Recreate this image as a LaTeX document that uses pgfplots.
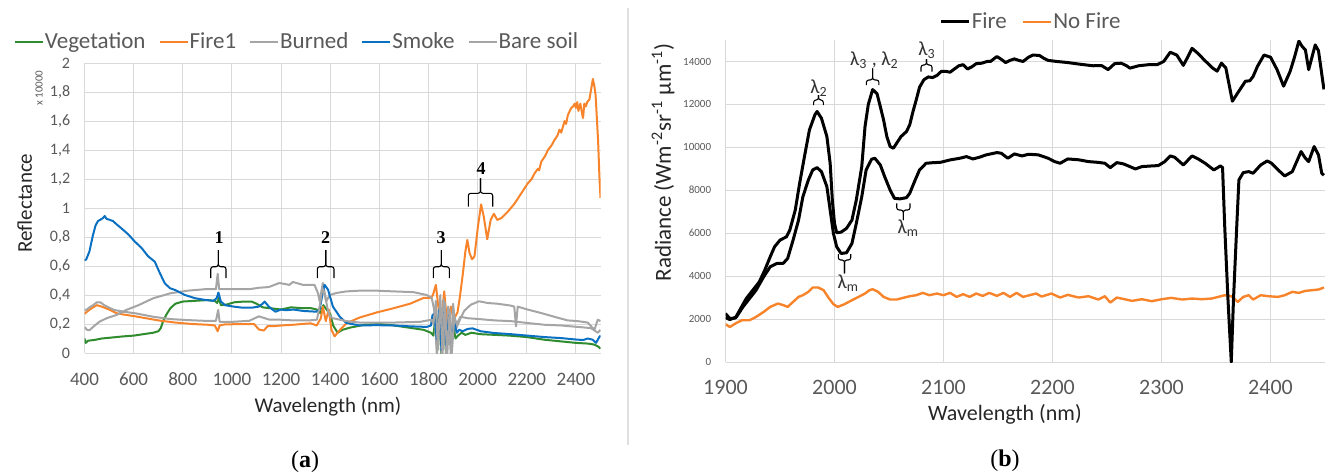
\documentclass[border=0pt]{standalone}
\usepackage{fontspec}
\setmainfont{Carlito}
\newfontfamily\serifbold{Liberation Serif}[BoldFont={Liberation Serif Bold}]
\usepackage{pgfplots}
\pgfplotsset{compat=1.18}
\definecolor{cveg}{HTML}{2E8B2E}
\definecolor{cfire}{HTML}{F7842A}
\definecolor{cgray}{HTML}{A5A5A5}
\definecolor{csmoke}{HTML}{0A70C2}
\definecolor{gridc}{HTML}{D9D9D9}
\definecolor{tickc}{HTML}{595959}
\newcommand\fs[1]{\fontsize{#1}{#1}\selectfont}
% bracket: left x, right x, mid x, end y, bar y, stem y (image pixels)
\newcommand\brk[6]{%
  \draw[line width=0.55pt, rounded corners=1.2pt] (#1,#4) -- (#1,#5) -- (#3,#5) -- (#3,#6);
  \draw[line width=0.55pt, rounded corners=1.2pt] (#2,#4) -- (#2,#5) -- (#3,#5) -- (#3,#6);}
\pgfplotsset{
  excel/.style={
    scale only axis, anchor=south west,
    grid=major, grid style={line width=0.5pt, gridc},
    axis line style={draw=none}, tick style={draw=none},
    tick label style={text=tickc},
    scaled ticks=false,
    /pgf/number format/assume math mode=true,
    /pgf/number format/1000 sep={},
    legend style={draw=none, fill=none, text=tickc, nodes={inner sep=0.5pt}},
    legend image code/.code={\draw[##1] (0pt,0pt) -- (14pt,0pt);},
  }
}
\begin{document}
\begin{tikzpicture}
\path[use as bounding box] (0pt,0pt) rectangle (662.5pt,-236.5pt);

% ---------------- (a) reflectance ----------------
\begin{axis}[excel, name=A,
  at={(42.25pt,-176.5pt)}, width=258pt, height=145pt,
  xmin=400, xmax=2500, ymin=0, ymax=2,
  xtick={400,600,...,2400}, ytick={0,0.2,...,2.01},
  xticklabel style={font=\fs{9.5}, anchor=center, inner sep=0pt, yshift=-13pt},
  yticklabel style={font=\fs{8}, anchor=east, inner sep=0pt, xshift=-7pt,
    /pgf/number format/use comma, /pgf/number format/fixed, /pgf/number format/precision=1},
  xlabel={Wavelength (nm)}, ylabel={Reflectance},
  label style={font=\fs{10.5}, text=black!85},
  xlabel style={at={(axis description cs:0.472,-0.186)}, anchor=center},
  ylabel style={at={(axis description cs:-0.116,0.517)}, anchor=center},
  legend columns=5,
  legend style={at={(axis description cs:0.411,1.072)}, anchor=center, font=\fs{11.5},
    /tikz/every even column/.append style={column sep=6pt}},
  every axis plot/.append style={line width=1pt, line join=round},
]
\addplot[cveg] coordinates {
(400,0.10)(405,0.07)(415,0.085)(440,0.09)(470,0.10)(500,0.105)(530,0.11)(560,0.115)
(600,0.12)(640,0.13)(680,0.14)(700,0.15)(710,0.17)(720,0.22)(735,0.27)(750,0.31)
(770,0.34)(800,0.355)(850,0.36)(900,0.365)(930,0.36)(940,0.345)(947,0.38)(955,0.33)
(980,0.335)(1010,0.35)(1050,0.355)(1080,0.355)(1100,0.34)(1125,0.315)(1150,0.31)
(1200,0.30)(1240,0.315)(1280,0.31)(1320,0.31)(1345,0.30)(1360,0.275)(1372,0.33)
(1385,0.30)(1400,0.27)(1412,0.19)(1430,0.14)(1450,0.16)(1480,0.175)(1540,0.195)
(1600,0.20)(1660,0.19)(1720,0.175)(1780,0.16)(1810,0.14)(1820,0.12)(1828,0.25)
(1834,0.05)(1843,0.30)(1852,-0.02)(1862,0.28)(1871,0.0)(1880,0.25)(1890,0.05)
(1900,0.20)(1910,0.10)(1920,0.12)(1935,0.14)(1950,0.125)(1975,0.14)(2010,0.13)
(2060,0.126)(2130,0.12)(2200,0.11)(2270,0.092)(2340,0.08)(2400,0.07)(2450,0.065)
(2475,0.058)(2490,0.045)(2500,0.03)};
\addlegendentry{Vegetation}
\addplot[cfire] coordinates {
(400,0.27)(410,0.285)(430,0.31)(450,0.33)(470,0.32)(500,0.30)(530,0.275)(560,0.265)
(600,0.255)(650,0.24)(700,0.225)(770,0.21)(840,0.20)(900,0.195)(930,0.19)(942,0.15)
(950,0.19)(970,0.197)(1040,0.20)(1090,0.20)(1110,0.162)(1130,0.155)(1145,0.185)
(1170,0.185)(1200,0.19)(1250,0.195)(1320,0.205)(1345,0.19)(1362,0.24)(1370,0.32)
(1382,0.22)(1394,0.30)(1405,0.16)(1418,0.115)(1440,0.16)(1466,0.205)(1520,0.245)
(1590,0.28)(1660,0.31)(1725,0.34)(1780,0.38)(1810,0.38)(1818,0.40)(1830,0.47)
(1840,0.32)(1850,0.18)(1864,0.425)(1877,0.18)(1891,0.32)(1902,0.23)(1918,0.28)
(1928,0.39)(1940,0.55)(1950,0.70)(1958,0.78)(1967,0.69)(1977,0.647)(1987,0.665)
(2001,0.87)(2014,1.025)(2025,0.94)(2039,0.785)(2053,0.918)(2066,0.96)(2080,0.918)
(2096,0.93)(2123,0.975)(2150,1.03)(2177,1.10)(2204,1.17)(2220,1.20)(2232,1.24)
(2245,1.27)(2250,1.26)(2259,1.32)(2275,1.36)(2286,1.40)(2300,1.43)(2313,1.47)
(2325,1.50)(2333,1.54)(2340,1.52)(2347,1.56)(2354,1.60)(2360,1.58)(2367,1.64)
(2375,1.67)(2381,1.69)(2388,1.70)(2395,1.72)(2400,1.69)(2405,1.73)(2410,1.67)
(2418,1.72)(2424,1.66)(2429,1.62)(2434,1.72)(2440,1.70)(2446,1.73)(2455,1.75)
(2462,1.82)(2469,1.89)(2475,1.84)(2480,1.78)(2490,1.47)(2496,1.20)(2500,1.07)};
\addlegendentry{Fire1}
\addplot[cgray] coordinates {
(400,0.18)(410,0.16)(420,0.157)(435,0.18)(460,0.215)(490,0.24)(530,0.262)(570,0.297)
(620,0.33)(680,0.378)(750,0.412)(820,0.43)(890,0.44)(935,0.44)(942,0.547)(948,0.44)
(1000,0.44)(1070,0.44)(1110,0.45)(1150,0.455)(1193,0.483)(1234,0.47)(1248,0.49)
(1289,0.47)(1336,0.47)(1350,0.414)(1357,0.357)(1370,0.483)(1384,0.357)(1398,0.40)
(1425,0.414)(1466,0.425)(1520,0.43)(1588,0.43)(1657,0.425)(1738,0.42)(1793,0.40)
(1813,0.38)(1823,0.30)(1834,-0.01)(1843,0.30)(1853,-0.01)(1861,0.37)(1871,-0.01)
(1880,0.32)(1891,-0.02)(1900,0.34)(1911,0.16)(1925,0.22)(1945,0.29)(1972,0.333)
(2006,0.357)(2040,0.345)(2081,0.34)(2135,0.327)(2149,0.32)(2156,0.184)(2163,0.32)
(2203,0.30)(2258,0.276)(2312,0.25)(2366,0.225)(2407,0.22)(2448,0.21)(2475,0.16)
(2489,0.23)(2500,0.22)};
\addlegendentry{Burned}
\addplot[csmoke] coordinates {
(400,0.64)(407,0.645)(420,0.70)(434,0.81)(445,0.88)(455,0.91)(465,0.92)(475,0.93)
(482,0.945)(490,0.925)(500,0.92)(516,0.91)(529,0.89)(550,0.86)(577,0.82)(604,0.77)
(632,0.725)(659,0.667)(686,0.63)(707,0.55)(727,0.48)(748,0.447)(768,0.435)(809,0.40)
(850,0.378)(891,0.366)(925,0.36)(938,0.378)(945,0.417)(955,0.355)(972,0.33)
(1007,0.32)(1041,0.313)(1082,0.313)(1109,0.32)(1125,0.34)(1133,0.355)(1150,0.32)
(1177,0.285)(1200,0.30)(1220,0.295)(1250,0.30)(1290,0.29)(1343,0.285)(1357,0.30)
(1370,0.42)(1377,0.47)(1391,0.437)(1411,0.32)(1439,0.25)(1466,0.207)(1520,0.19)
(1588,0.192)(1657,0.19)(1725,0.184)(1793,0.18)(1810,0.19)(1816,0.26)(1823,0.27)
(1834,0.09)(1843,0.30)(1853,0.02)(1864,0.28)(1873,0.05)(1884,0.26)(1894,0.07)
(1905,0.21)(1915,0.14)(1925,0.16)(1939,0.15)(1959,0.166)(1979,0.17)(2013,0.15)
(2067,0.138)(2135,0.13)(2203,0.12)(2271,0.11)(2339,0.103)(2407,0.092)(2430,0.09)
(2448,0.10)(2468,0.092)(2482,0.07)(2495,0.11)(2500,0.12)};
\addlegendentry{Smoke}
\addplot[cgray] coordinates {
(400,0.297)(410,0.30)(420,0.315)(435,0.33)(450,0.35)(465,0.35)(480,0.33)(520,0.297)
(560,0.285)(610,0.273)(680,0.25)(750,0.234)(820,0.227)(890,0.222)(935,0.222)
(944,0.297)(950,0.215)(1000,0.215)(1070,0.222)(1110,0.253)(1152,0.23)(1193,0.23)
(1248,0.225)(1316,0.225)(1346,0.23)(1360,0.35)(1368,0.45)(1378,0.40)(1390,0.30)
(1400,0.25)(1411,0.24)(1466,0.22)(1520,0.21)(1657,0.21)(1766,0.215)(1813,0.23)
(1820,0.20)(1830,0.36)(1838,0.02)(1848,0.40)(1857,-0.02)(1866,0.35)(1876,-0.02)
(1886,0.30)(1895,0.0)(1905,0.25)(1915,0.20)(1930,0.25)(1959,0.24)(2000,0.235)
(2067,0.225)(2135,0.22)(2203,0.207)(2271,0.195)(2339,0.19)(2407,0.18)(2461,0.172)
(2489,0.14)(2500,0.16)};
\addlegendentry{Bare soil}
\end{axis}

% ---------------- (b) radiance ----------------
\begin{axis}[excel, name=B,
  at={(362.75pt,-181pt)}, width=299.75pt, height=161pt,
  xmin=1900, xmax=2450, ymin=0, ymax=15000,
  xtick={1900,2000,...,2400}, ytick={0,2000,...,14000},
  xticklabel style={font=\fs{11}, anchor=center, inner sep=0pt, yshift=-12.5pt},
  yticklabel style={font=\fs{5.5}, anchor=east, inner sep=0pt, xshift=-7pt},
  xlabel={Wavelength (nm)},
  ylabel={Radiance (Wm\textsuperscript{-2}sr\textsuperscript{-1} µm\textsuperscript{-1})},
  label style={font=\fs{11.5}, text=black!85},
  xlabel style={at={(axis description cs:0.466,-0.161)}, anchor=center, font=\fs{11}},
  ylabel style={at={(axis description cs:-0.104,0.62)}, anchor=center},
  legend columns=2,
  legend style={at={(axis description cs:0.509,1.056)}, anchor=center, font=\fs{11.5},
    /tikz/every even column/.append style={column sep=7pt}},
  every axis plot/.append style={line join=round},
]
\addplot[black, line width=1.5pt] coordinates {
(1900,2256)(1904,2023)(1909,2050)(1913,2412)(1919,2956)(1925,3345)(1931,3734)
(1936,4279)(1941,4901)(1945,5368)(1950,5679)(1956,5835)(1959,6146)(1964,7080)
(1968,8325)(1973,9725)(1977,10814)(1982,11514)(1984,11670)(1988,11359)(1993,10503)
(1996,9258)(1998,7547)(2000,6457)(2002,6022)(2006,6050)(2011,6224)(2016,6613)
(2020,7547)(2025,9103)(2028,10970)(2031,12000)(2035,12690)(2039,12500)(2042,11900)
(2045,11281)(2048,10503)(2051,10036)(2054,9958)(2057,10192)(2061,10503)(2066,10736)
(2069,11048)(2072,11670)(2075,12215)(2078,12800)(2082,13150)(2086,13280)(2090,13250)
(2094,13350)(2098,13540)(2102,13540)(2106,13500)(2110,13650)(2114,13800)(2118,13850)
(2122,13650)(2126,13750)(2130,13900)(2135,13920)(2140,14000)(2143,14000)(2149,14230)
(2153,14100)(2157,13950)(2161,14050)(2165,14120)(2169,14050)(2173,14000)(2178,14200)
(2182,14300)(2188,14280)(2192,14150)(2196,14050)(2204,14000)(2214,13950)(2224,13880)
(2237,13800)(2245,13810)(2251,13620)(2257,13900)(2263,13920)(2268,13800)(2271,13690)
(2279,13800)(2288,13850)(2296,13850)(2302,14000)(2308,14430)(2314,14300)(2320,13820)
(2324,14200)(2328,14615)(2334,14350)(2339,14080)(2347,13690)(2351,13550)(2355,13920)
(2359,13700)(2365,12150)(2371,12620)(2377,13080)(2381,13100)(2384,13300)(2388,13770)
(2394,14300)(2400,14200)(2406,13620)(2412,12850)(2418,13540)(2422,14200)(2426,14950)
(2429,14700)(2432,14540)(2435,13620)(2441,14770)(2444,14500)(2449,12700)};
\addlegendentry{Fire}
\addplot[cfire, line width=1.2pt] coordinates {
(1900,1758)(1904,1634)(1910,1820)(1915,1945)(1922,1945)(1928,2100)(1935,2334)
(1941,2567)(1948,2723)(1953,2650)(1957,2567)(1962,2800)(1967,3034)(1971,3112)
(1976,3268)(1980,3470)(1985,3470)(1990,3345)(1994,3034)(1999,2692)(2003,2567)
(2009,2692)(2016,2879)(2022,3034)(2028,3190)(2032,3345)(2035,3392)(2040,3268)
(2045,3034)(2051,2910)(2057,2910)(2063,2988)(2069,3065)(2075,3112)(2081,3221)
(2087,3112)(2094,3190)(2100,3112)(2106,3221)(2112,3034)(2118,3160)(2124,3034)
(2130,3190)(2136,3080)(2142,3221)(2149,3080)(2155,3221)(2161,3034)(2167,3221)
(2173,3034)(2179,3112)(2185,3190)(2190,3050)(2199,3190)(2207,3003)(2214,3128)
(2224,3003)(2233,3065)(2242,2910)(2248,3065)(2253,2770)(2259,3003)(2266,2925)
(2273,2848)(2282,2925)(2291,2832)(2300,2925)(2309,2988)(2319,2910)(2328,2957)
(2337,2925)(2346,2957)(2352,3034)(2358,3112)(2364,3065)(2370,2800)(2375,3034)
(2380,3112)(2384,2910)(2391,3112)(2398,3065)(2407,3034)(2413,3112)(2420,3268)
(2426,3221)(2432,3314)(2438,3345)(2444,3376)(2449,3470)};
\addlegendentry{No Fire}
\addplot[black, line width=1.5pt, forget plot] coordinates {
(1900,2069)(1904,1976)(1910,2100)(1916,2567)(1922,2956)(1928,3345)(1935,3968)
(1941,4435)(1947,4590)(1953,4600)(1957,4824)(1962,5679)(1967,6613)(1971,7702)
(1976,8480)(1980,8947)(1984,9056)(1988,8869)(1993,8169)(1996,7080)(1999,5991)
(2002,5368)(2006,5057)(2011,5088)(2016,5524)(2020,6457)(2025,7702)(2029,8947)
(2034,9445)(2037,9492)(2042,9180)(2046,8636)(2051,8013)(2055,7624)(2060,7600)
(2066,7655)(2069,7858)(2074,8480)(2078,8947)(2084,9258)(2091,9289)(2097,9300)
(2106,9414)(2115,9492)(2121,9569)(2127,9460)(2133,9540)(2139,9647)(2149,9756)
(2153,9725)(2159,9492)(2165,9694)(2172,9600)(2178,9678)(2187,9650)(2196,9492)
(2202,9336)(2207,9258)(2214,9460)(2224,9420)(2233,9336)(2242,9300)(2248,9258)
(2253,9056)(2259,9289)(2265,9230)(2271,9103)(2276,8994)(2282,9103)(2291,9134)
(2297,9150)(2303,9336)(2308,9600)(2312,9540)(2320,9180)(2328,9600)(2334,9450)
(2340,9258)(2348,8947)(2354,9134)(2356,9056)(2358,6302)(2361,2879)(2364,0)
(2366,2879)(2369,6302)(2371,8480)(2375,8823)(2380,8870)(2384,8792)(2391,9180)
(2397,9367)(2401,9258)(2407,8947)(2413,8667)(2420,8870)(2424,9336)(2428,9803)
(2432,9492)(2435,9336)(2440,10036)(2444,9650)(2447,8792)(2449,8700)};
\end{axis}

% ---------------- annotations (image pixel coordinates) ----------------
\begin{scope}[x=0.5pt, y=-0.5pt]
\draw[black!12, line width=0.6pt] (628,8) -- (628,445);
\node[rotate=90, font=\fs{5.5}, text=tickc] at (39,88) {x 10000};
% numbered brackets in (a)
\brk{210.7}{226}{218.3}{278}{266.7}{250}
\brk{317.3}{334}{325.7}{278}{266.7}{250}
\brk{433.3}{449.3}{441.3}{278}{266.7}{250}
\brk{468.3}{492.7}{480.5}{206.7}{193.3}{178.3}
\begin{scope}[every node/.style={font=\serifbold\bfseries\fs{9}}]
\node at (219,237.3) {1};
\node at (325.7,237.3) {2};
\node at (441,237.3) {3};
\node at (481,168.3) {4};
\end{scope}
% lambda brackets in (b)
\brk{813.6}{823.3}{818.5}{105}{100}{95}
\brk{866.4}{878.9}{872.6}{85}{80}{68.3}
\brk{921}{932}{926.5}{71.7}{65}{59}
\brk{838.3}{850.7}{844.5}{254}{260}{273.3}
\brk{896.7}{910}{903.3}{203.3}{210}{220}
\begin{scope}[every node/.style={font=\fs{10}, text=black!80, inner sep=0pt}]
\node at (819,88.3) {λ\textsubscript{2}};
\node at (874.4,60) {λ\textsubscript{3} , λ\textsubscript{2}};
\node at (927,50) {λ\textsubscript{3}};
\node at (848.3,283.3) {λ\textsubscript{m}};
\node at (908.3,228.3) {λ\textsubscript{m}};
\end{scope}
\node[font=\serifbold\fs{12}] at (305,462) {(\textbf{a})};
\node[font=\serifbold\fs{12}] at (1005,461) {(\textbf{b})};
\end{scope}
\end{tikzpicture}
\end{document}
